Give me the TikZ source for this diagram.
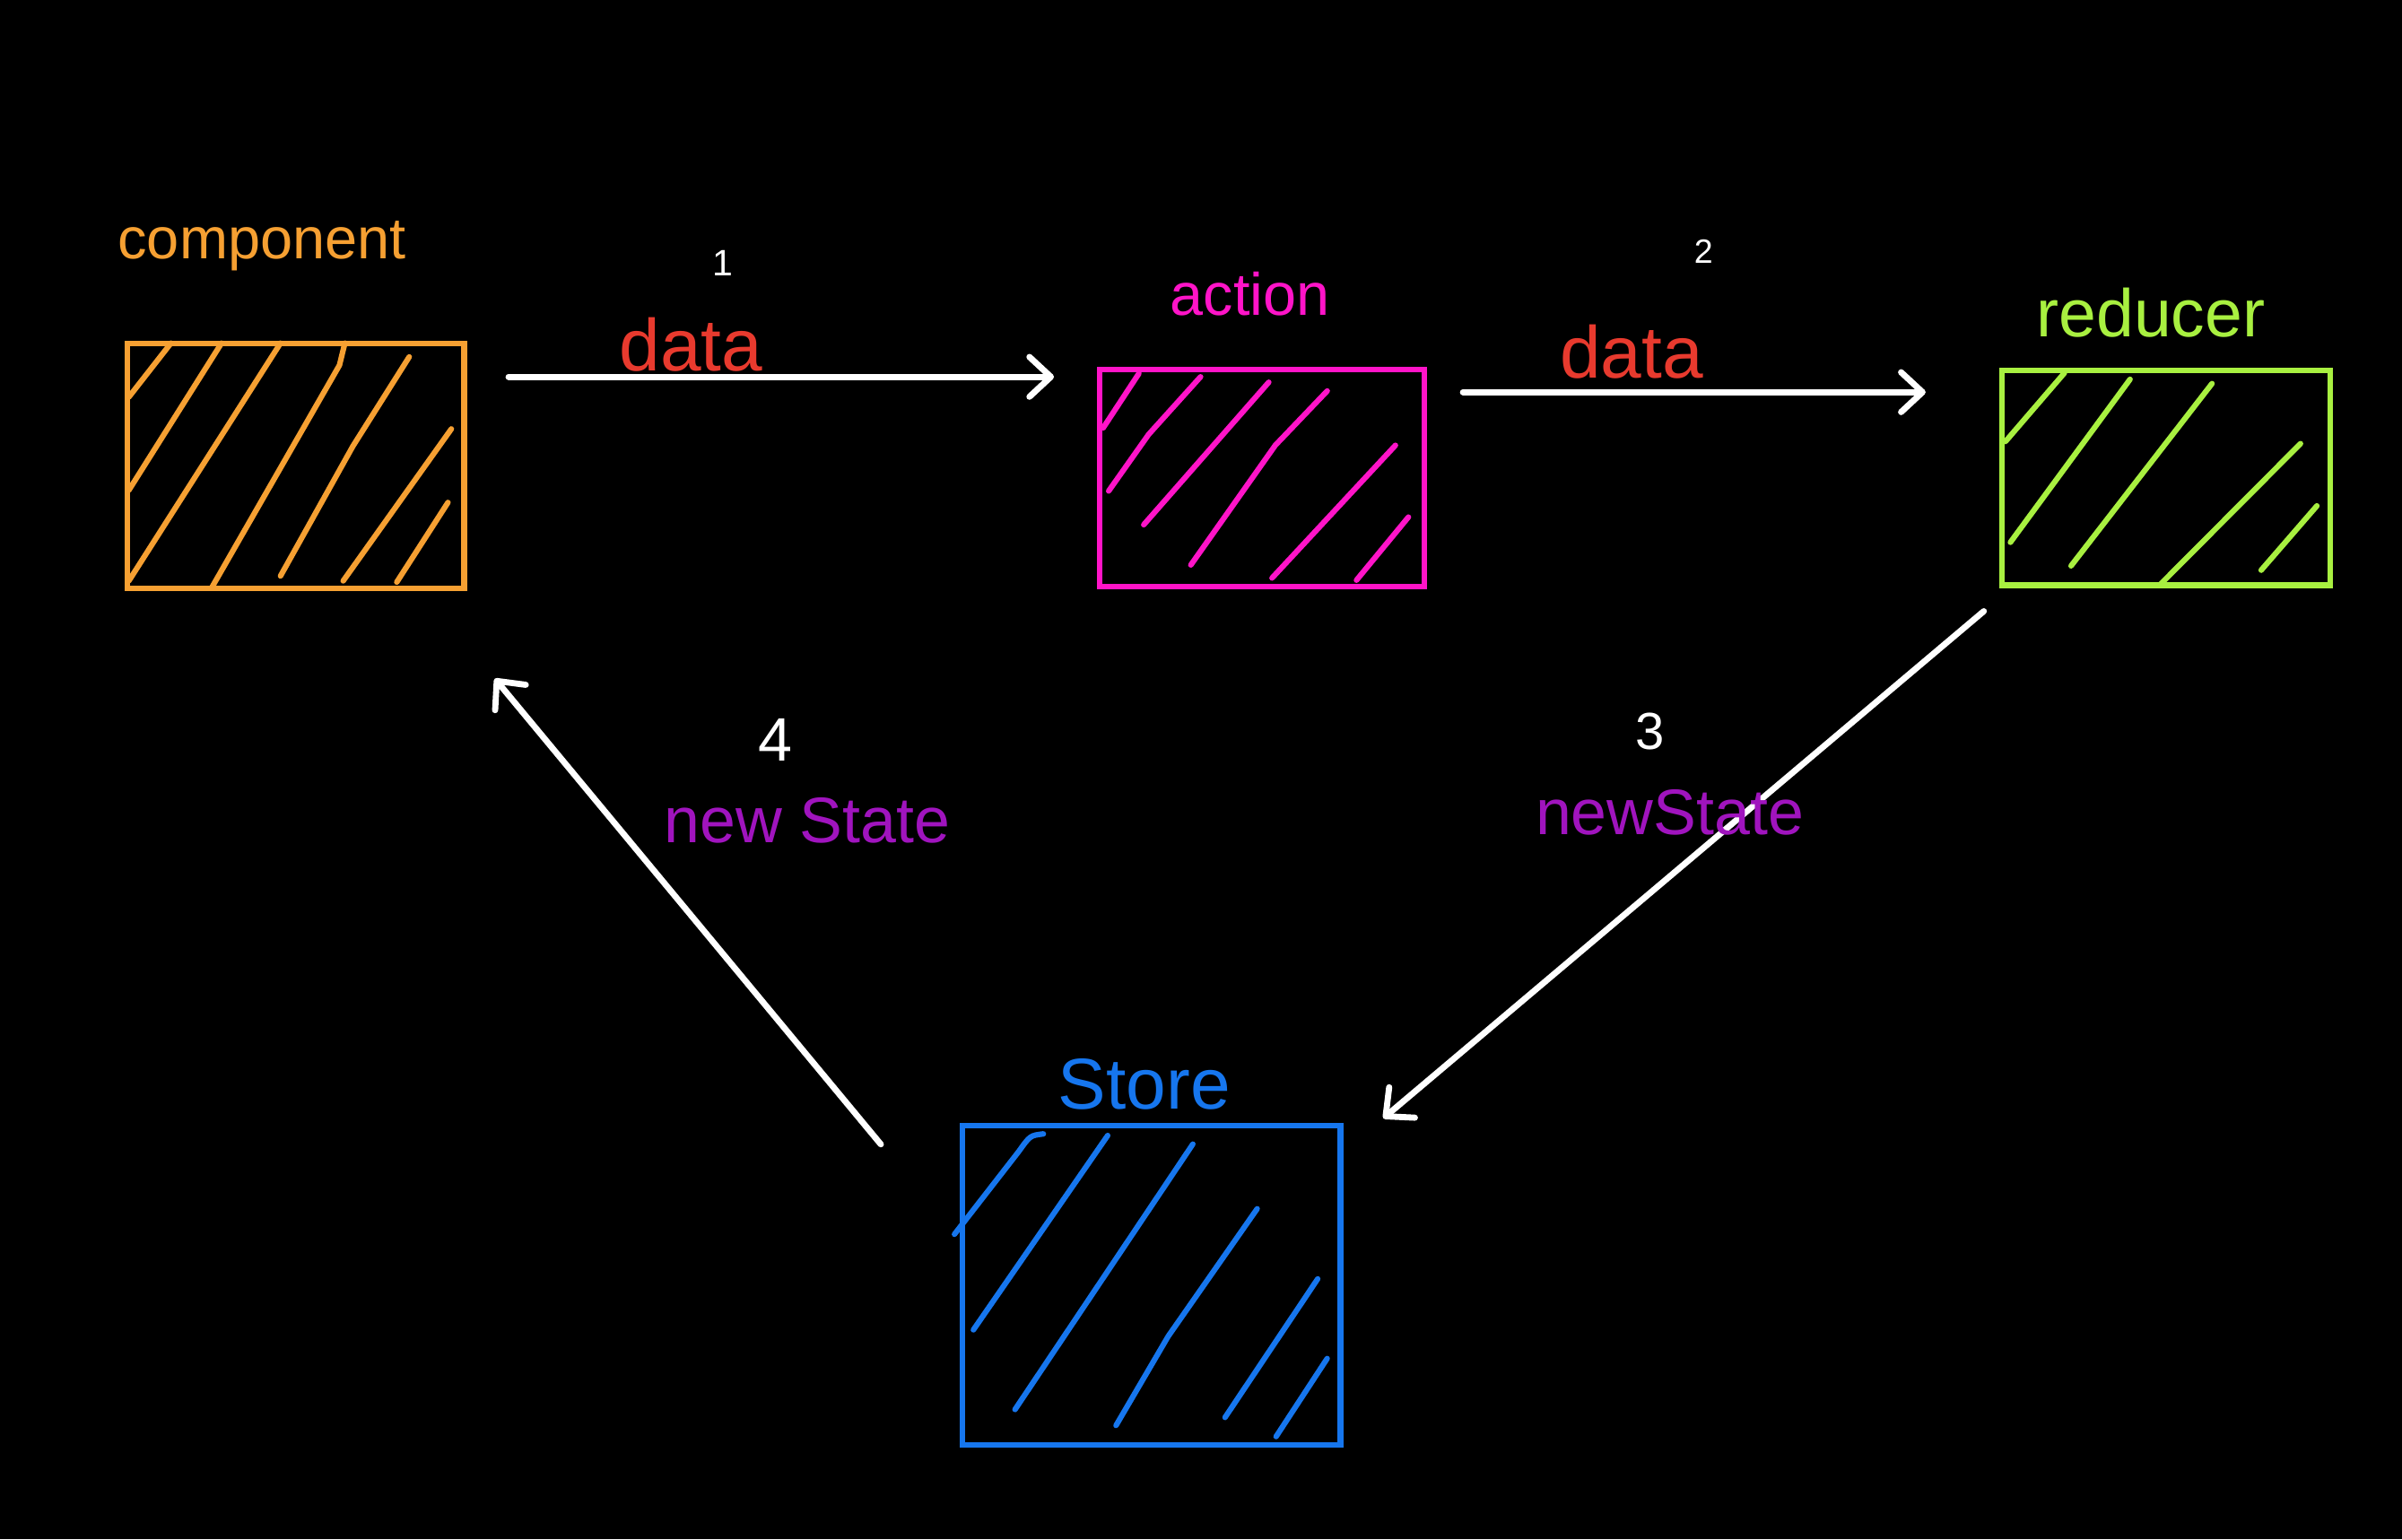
\documentclass[tikz,border=0pt]{standalone}
\usepackage{fontspec}
\setmainfont{Liberation Sans}
\usetikzlibrary{arrows.meta}
\definecolor{cOrange}{RGB}{246,160,50}
\definecolor{cMagenta}{RGB}{255,20,200}
\definecolor{cGreen}{RGB}{168,240,64}
\definecolor{cBlue}{RGB}{22,118,238}
\definecolor{cRed}{RGB}{232,58,46}
\definecolor{cPurple}{RGB}{160,20,190}
\tikzset{
  box/.style={draw=#1, line width=3.6pt, rectangle, inner sep=0pt, outer sep=0pt},
  hatch/.style={line width=3.6pt, line cap=round, line join=round},
  flow/.style={draw=white, line width=4pt, line cap=round,
    -{Straight Barb[length=14pt,width=26pt,line width=4pt,round]}},
  lbl/.style={text=#1, inner sep=0pt, anchor=base},
}
\begin{document}
\begin{tikzpicture}[x=1pt,y=-1pt]
\fill[black] (0,0) rectangle (1568,1005);
\useasboundingbox (0,0) rectangle (1568,1005);

% boxes
\node[box=cOrange, minimum width=220pt, minimum height=160pt] (comp) at (193,304) {};
\node[box=cMagenta, minimum width=212pt, minimum height=142pt] (action) at (824,312) {};
\node[box=cGreen, minimum width=214pt, minimum height=140pt] (reducer) at (1414,312) {};
\node[box=cBlue, minimum width=247pt, minimum height=208pt] (store) at (751.5,839) {};

% hatching
\begin{scope}[shift={(comp.north west)}, x=220pt, y=-160pt, draw=cOrange]
  \draw[hatch] (0.13,0) -- (0.005,0.22);
  \draw[hatch] (0.28,0) -- (0.005,0.6);
  \draw[hatch] (0.455,0) -- (0.005,0.97);
  \draw[hatch] (0.646,0) -- (0.63,0.09) -- (0.25,1.0);
  \draw[hatch] (0.837,0.056) -- (0.67,0.42) -- (0.455,0.95);
  \draw[hatch] (0.962,0.35) -- (0.641,0.97);
  \draw[hatch] (0.952,0.65) -- (0.8,0.975);
\end{scope}
\begin{scope}[shift={(action.north west)}, x=212pt, y=-142pt, draw=cMagenta]
  \draw[hatch] (0.12,0.02) -- (0.01,0.27);
  \draw[hatch] (0.31,0.035) -- (0.15,0.3) -- (0.027,0.56);
  \draw[hatch] (0.52,0.06) -- (0.135,0.715);
  \draw[hatch] (0.7,0.1) -- (0.54,0.35) -- (0.28,0.90);
  \draw[hatch] (0.91,0.35) -- (0.53,0.96);
  \draw[hatch] (0.95,0.68) -- (0.79,0.97);
\end{scope}
\begin{scope}[shift={(reducer.north west)}, x=214pt, y=-140pt, draw=cGreen]
  \draw[hatch] (0.19,0.01) -- (0.01,0.33);
  \draw[hatch] (0.39,0.04) -- (0.025,0.8);
  \draw[hatch] (0.64,0.06) -- (0.21,0.91);
  \draw[hatch] (0.91,0.34) -- (0.48,1.0);
  \draw[hatch] (0.96,0.63) -- (0.79,0.93);
\end{scope}
\begin{scope}[shift={(store.north west)}, x=247pt, y=-208pt, draw=cBlue]
  \draw[hatch] (0.215,0.025) .. controls (0.18,0.03) .. (0.15,0.08) -- (-0.02,0.34);
  \draw[hatch] (0.385,0.03) -- (0.03,0.64);
  \draw[hatch] (0.61,0.057) -- (0.14,0.89);
  \draw[hatch] (0.78,0.26) -- (0.545,0.66) -- (0.407,0.94);
  \draw[hatch] (0.94,0.48) -- (0.695,0.915);
  \draw[hatch] (0.965,0.73) -- (0.83,0.975);
\end{scope}

% box titles
\node[lbl=cOrange, font=\fontsize{38}{44}\selectfont] (tcomp) at (171,169) {component};
\node[lbl=cMagenta, font=\fontsize{39}{46}\selectfont] (taction) at (816,206) {action};
\node[lbl=cGreen, font=\fontsize{44}{52}\selectfont] (treducer) at (1404,220) {reducer};
\node[lbl=cBlue, font=\fontsize{47}{54}\selectfont] (tstore) at (747,724) {Store};

% connectors
\coordinate (a1s) at (332,246); \coordinate (a1e) at (688,246);
\coordinate (a2s) at (955,256); \coordinate (a2e) at (1257,256);
\coordinate (a3s) at (1295,399); \coordinate (a3e) at (903,730);
\coordinate (a4s) at (575,747); \coordinate (a4e) at (323,443);
\draw[flow] (a1s) -- (a1e);
\draw[flow] (a2s) -- (a2e);
\draw[flow] (a3s) -- (a3e);
\draw[flow] (a4s) -- (a4e);

% connector labels
\node[lbl=white, font=\fontsize{24}{28}\selectfont] (n1) at (472,180) {1};
\node[lbl=white, font=\fontsize{22}{26}\selectfont] (n2) at (1112,172) {2};
\node[lbl=white, font=\fontsize{34}{40}\selectfont] (n3) at (1077,489) {3};
\node[lbl=white, font=\fontsize{40}{48}\selectfont] (n4) at (506,497) {4};
\node[lbl=cRed, font=\fontsize{48}{54}\selectfont] (d1) at (451,242) {data};
\node[lbl=cRed, font=\fontsize{48}{54}\selectfont] (d2) at (1065,247) {data};
\node[lbl=cPurple, font=\fontsize{42}{50}\selectfont] (s3) at (1090,545) {newState};
\node[lbl=cPurple, font=\fontsize{42}{50}\selectfont] (s4) at (527,550) {new State};
\end{tikzpicture}
\end{document}
